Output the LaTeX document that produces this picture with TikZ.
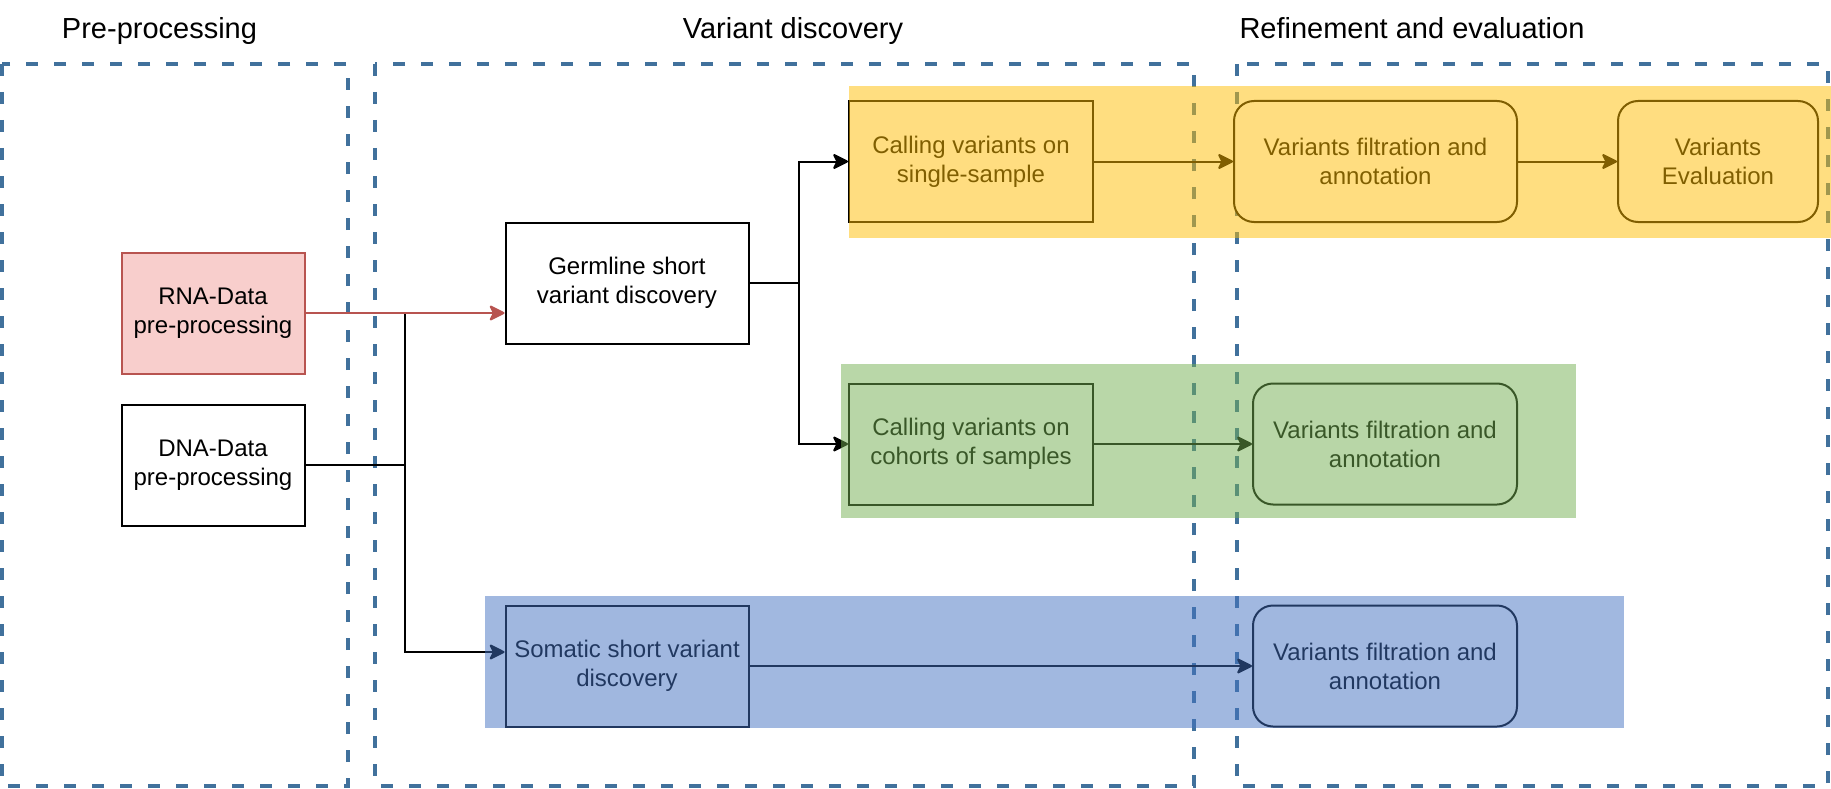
\documentclass[tikz,border=0pt]{standalone}
\usepackage{fontspec}
\setmainfont{Liberation Sans}
\usetikzlibrary{arrows.meta}

\begin{document}
\begin{tikzpicture}[x=1pt,y=-1pt]
    % Define colors
    \definecolor{frame}{RGB}{65,113,156}
    \definecolor{rnafill}{RGB}{248,206,204}
    \definecolor{rnaline}{RGB}{184,84,80}
    \definecolor{bandyellow}{RGB}{255,189,2}
    \definecolor{bandgreen}{RGB}{115,175,81}
    \definecolor{bandblue}{RGB}{67,113,193}

    \tikzset{
        stage/.style={draw=frame, line width=3.5pt, dash pattern=on 12pt off 16pt},
        task/.style={draw, line width=2pt, fill=white, minimum width=243pt, minimum height=121pt,
            align=center, inner sep=0pt, font=\fontsize{24}{29}\selectfont},
        refine/.style={task, rounded corners=20pt},
        link/.style={line width=2pt, >={Stealth[length=17pt,width=17pt,inset=4pt,round]}},
        title/.style={anchor=base, font=\fontsize{29}{34}\selectfont},
    }
    \useasboundingbox (0,0) rectangle (1831,789);

    % Titles
    \node[title] (pretitle) at (159.5,39) {Pre-processing};
    \node[title] (vartitle) at (793,39) {Variant discovery};
    \node[title] (reftitle) at (1412,39) {Refinement and evaluation};

    % Dashed stages
    \draw[stage] (2,64) rectangle (348,786);
    \draw[stage] (375,64) rectangle (1194,786);
    \draw[stage] (1237,64) rectangle (1828,786);

    % Pre-processing
    \node[task, fill=rnafill, draw=rnaline, minimum width=183pt] (rna) at (213,313) {RNA-Data\\pre-processing};
    \node[task, minimum width=183pt] (dna) at (213,465) {DNA-Data\\pre-processing};

    % Variant discovery
    \node[task] (germ) at (627,283) {Germline short\\variant discovery};
    \node[task] (somatic) at (627,666) {Somatic short variant\\discovery};
    \node[task, minimum width=244pt] (single) at (971,161.5) {Calling variants on\\single-sample};
    \node[task, minimum width=244pt] (cohort) at (971,444) {Calling variants on\\cohorts of samples};

    % Refinement and evaluation
    \node[refine, minimum width=283pt] (filtsingle) at (1375.5,161.5) {Variants filtration and\\annotation};
    \node[refine, minimum width=200pt] (evaluation) at (1718,161.5) {Variants\\Evaluation};
    \node[refine, minimum width=264pt] (filtcohort) at (1385,444) {Variants filtration and\\annotation};
    \node[refine, minimum width=264pt] (filtsomatic) at (1385,666) {Variants filtration and\\annotation};

    % Connectors
    \coordinate (split) at (405,465);
    \coordinate (fork) at (799,283);
    \draw[link] (dna) -- (split);
    \draw[link, ->] (split |- rna.east) |- ([yshift=14pt]somatic.west);
    \draw[link, ->, rnaline] (rna) -- (rna -| germ.west);
    \draw[link] (germ) -- (fork);
    \draw[link, ->] (fork) |- (single);
    \draw[link, ->] (fork) |- (cohort);
    \draw[link, ->] (single) -- (filtsingle);
    \draw[link, ->] (filtsingle) -- (evaluation);
    \draw[link, ->] (cohort) -- (filtcohort);
    \draw[link, ->] (somatic) -- (filtsomatic);

    % Coloured bands on top
    \fill[bandyellow, fill opacity=0.5] (849,86) rectangle (1831,238);
    \fill[bandgreen, fill opacity=0.5] (841,364) rectangle (1576,518);
    \fill[bandblue, fill opacity=0.5] (485,596) rectangle (1624,728);
\end{tikzpicture}
\end{document}
